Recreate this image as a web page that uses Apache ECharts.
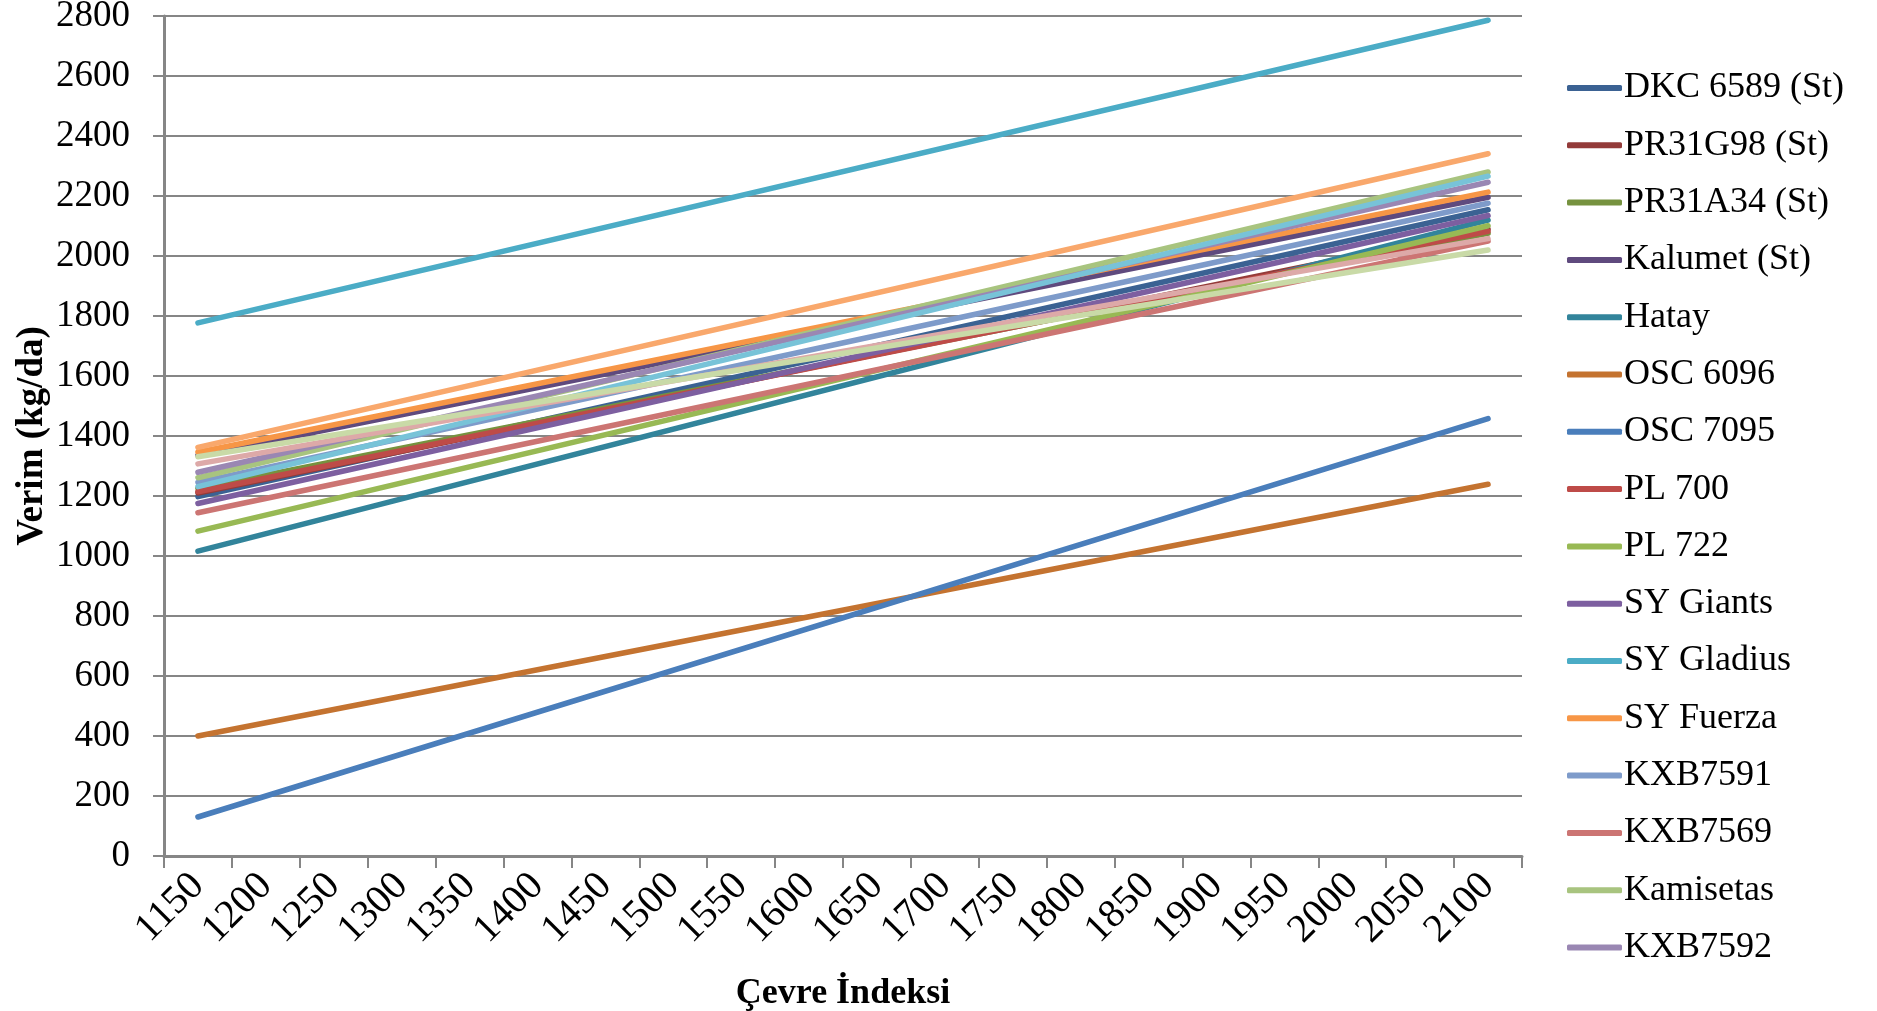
<!DOCTYPE html>
<html>
<head>
<meta charset="utf-8">
<script src="https://cdn.jsdelivr.net/npm/echarts@6/dist/echarts.min.js"></script>
<style>
html,body{margin:0;padding:0;background:#fff;}
#chart{width:1877px;height:1011px;}
</style>
</head>
<body>
<div id="chart"></div>
<script>
// Tick labels (categories) of the x axis
const categories = ['1150','1200','1250','1300','1350','1400','1450','1500','1550','1600','1650','1700','1750','1800','1850','1900','1950','2000','2050','2100'];

// Series names (legend shows the first 16)
const seriesNames = ['DKC 6589 (St)','PR31G98 (St)','PR31A34 (St)','Kalumet (St)','Hatay','OSC 6096','OSC 7095','PL 700','PL 722','SY Giants','SY Gladius','SY Fuerza','KXB7591','KXB7569','Kamisetas','KXB7592','Seri 17','Seri 18','Seri 19','Seri 20'];
const legendNames = seriesNames.slice(0, 16);

// Values read at first (1150) and last (2100) category
const startValues = [1198,1210,1225,1335,1016,400,130,1214,1083,1175,1777,1346,1245,1144,1261,1279,1231,1362,1307,1331];
const endValues   = [2154,2090,2076,2196,2120,1239,1458,2082,2101,2135,2786,2213,2176,2050,2280,2246,2266,2341,2058,2020];

const colors = ['#3B6293','#933B39','#76923F','#5F4A7E','#32849B','#C47330','#4A7EBB','#BE4B48','#98B954','#7D5FA0','#4BACC6','#F79646','#7E9BCA','#CC7573','#A8C47F','#9A87B3','#78C3D8','#F9A86C','#DDA9A8','#C9DAA7'];

const series = seriesNames.map((name, i) => {
  const data = categories.map(() => null);
  data[0] = startValues[i];
  data[categories.length - 1] = endValues[i];
  return {
    name: name,
    type: 'line',
    data: data,
    connectNulls: true,
    symbol: 'none',
    silent: true,
    lineStyle: { width: 5.5, color: colors[i], cap: 'round' },
    itemStyle: { color: colors[i] }
  };
});

const chart = echarts.init(document.getElementById('chart'), null, { renderer: 'canvas' });
chart.setOption({
  animation: false,
  backgroundColor: '#ffffff',
  grid: { left: 164, right: 355, top: 16, bottom: 155, containLabel: false, outerBoundsMode: 'none' },
  legend: {
    data: legendNames,
    orient: 'vertical',
    left: 1562,
    top: 63,
    itemWidth: 55,
    itemHeight: 6,
    itemGap: 17.3,
    icon: 'roundRect',
    textStyle: { fontFamily: 'Liberation Serif', fontSize: 36, color: '#000', lineHeight: 40, padding: [0,0,0,-3] }
  },
  xAxis: {
    type: 'category',
    data: categories,
    boundaryGap: true,
    name: 'Çevre İndeksi',
    nameLocation: 'middle',
    nameGap: 120,
    nameTextStyle: { fontFamily: 'Liberation Serif', fontWeight: 'bold', fontSize: 36, color: '#000' },
    axisLine: { lineStyle: { color: '#868686', width: 3 } },
    axisTick: { show: true, length: 12, inside: false, lineStyle: { color: '#868686', width: 2 } },
    axisLabel: { rotate: 45, margin: 24, fontFamily: 'Liberation Serif', fontSize: 40, color: '#000', interval: 0 },
    splitLine: { show: false }
  },
  yAxis: {
    type: 'value',
    min: 0,
    max: 2800,
    interval: 200,
    name: 'Verim (kg/da)',
    nameLocation: 'middle',
    nameGap: 113,
    nameRotate: 90,
    nameMoveOverlap: false,
    nameTextStyle: { fontFamily: 'Liberation Serif', fontWeight: 'bold', fontSize: 37, color: '#000' },
    axisLine: { show: true, lineStyle: { color: '#868686', width: 3 } },
    axisTick: { show: true, length: 11, lineStyle: { color: '#868686', width: 2 } },
    axisLabel: { margin: 34, fontFamily: 'Liberation Serif', fontSize: 37, color: '#000', formatter: (v) => String(v) },
    splitLine: { show: true, lineStyle: { color: '#868686', width: 2 } }
  },
  series: series
});
</script>
</body>
</html>
